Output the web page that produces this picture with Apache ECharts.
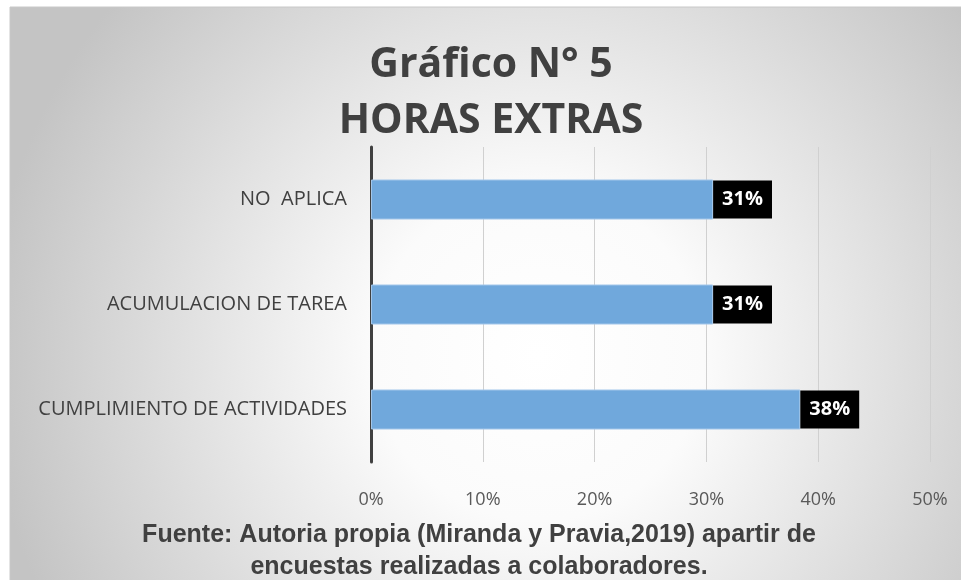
<!DOCTYPE html>
<html>
<head>
<meta charset="utf-8">
<script src="https://cdn.jsdelivr.net/npm/echarts@6/dist/echarts.min.js"></script>
<style>
  html, body { margin: 0; padding: 0; background: #fff; }
  #chart { width: 961px; height: 580px; }
</style>
</head>
<body>
<div id="chart"></div>
<script>
// categorias (de abajo hacia arriba)
const categorias = ['CUMPLIMIENTO DE ACTIVIDADES', 'ACUMULACION DE TAREA', 'NO  APLICA']
const valores = [38.4, 30.6, 30.6]
const ticks = [0, 10, 20, 30, 40, 50]

const chart = echarts.init(document.getElementById('chart'))

const options = {
  backgroundColor: '#ffffff',
  animation: false,
  graphic: [{
    type: 'rect',
    z: -10,
    silent: true,
    shape: { x: 10, y: 7, width: 960, height: 580 },
    style: {
      fill: {
        type: 'radial',
        x: 0.55,
        y: 0.6,
        r: 0.95,
        colorStops: [
          { offset: 0, color: '#ffffff' },
          { offset: 0.3, color: '#fbfbfb' },
          { offset: 1, color: '#c4c4c4' }
        ]
      },
      stroke: '#c8c8c8',
      lineWidth: 1
    }
  }],
  title: [{
    text: 'Gráfico N° 5\nHORAS EXTRAS',
    left: 486,
    textAlign: 'center',
    top: 32,
    textStyle: {
      fontFamily: 'Open Sans',
      fontWeight: 'bold',
      fontSize: 41,
      lineHeight: 56,
      color: '#404040'
    }
  }, {
    text: 'Fuente: Autoria propia (Miranda y Pravia,2019) apartir de\nencuestas realizadas a colaboradores.',
    left: 474,
    textAlign: 'center',
    top: 514,
    textStyle: {
      fontFamily: 'Liberation Sans',
      fontWeight: 'bold',
      fontSize: 25,
      lineHeight: 32,
      color: '#404040'
    }
  }],
  grid: {
    left: 371,
    right: 31,
    top: 147,
    bottom: 118
  },
  xAxis: {
    type: 'value',
    min: ticks[0],
    max: ticks[ticks.length - 1],
    interval: 10,
    axisLine: { show: false },
    axisTick: { show: false },
    axisLabel: {
      formatter: '{value}%',
      margin: 29,
      fontFamily: 'Open Sans',
      fontSize: 18,
      color: '#595959'
    },
    splitLine: {
      lineStyle: { color: '#d0d0d0', width: 1 }
    }
  },
  yAxis: {
    type: 'category',
    data: categorias,
    axisLine: {
      lineStyle: { color: '#404040', width: 3 }
    },
    axisTick: { show: false },
    axisLabel: {
      margin: 24,
      fontFamily: 'Open Sans',
      fontSize: 20,
      color: '#404040'
    }
  },
  series: [{
    type: 'bar',
    data: valores,
    barWidth: 40,
    itemStyle: {
      color: '#70a8dc',
      borderColor: '#a2c6ea',
      borderWidth: 1
    },
    label: {
      show: true,
      position: 'right',
      distance: 0,
      formatter: p => Math.round(p.value) + '%',
      backgroundColor: '#000000',
      padding: [8, 9],
      color: '#ffffff',
      fontFamily: 'Open Sans',
      fontWeight: 'bold',
      fontSize: 20,
      lineHeight: 22
    }
  }]
}

chart.setOption(options)
</script>
</body>
</html>
